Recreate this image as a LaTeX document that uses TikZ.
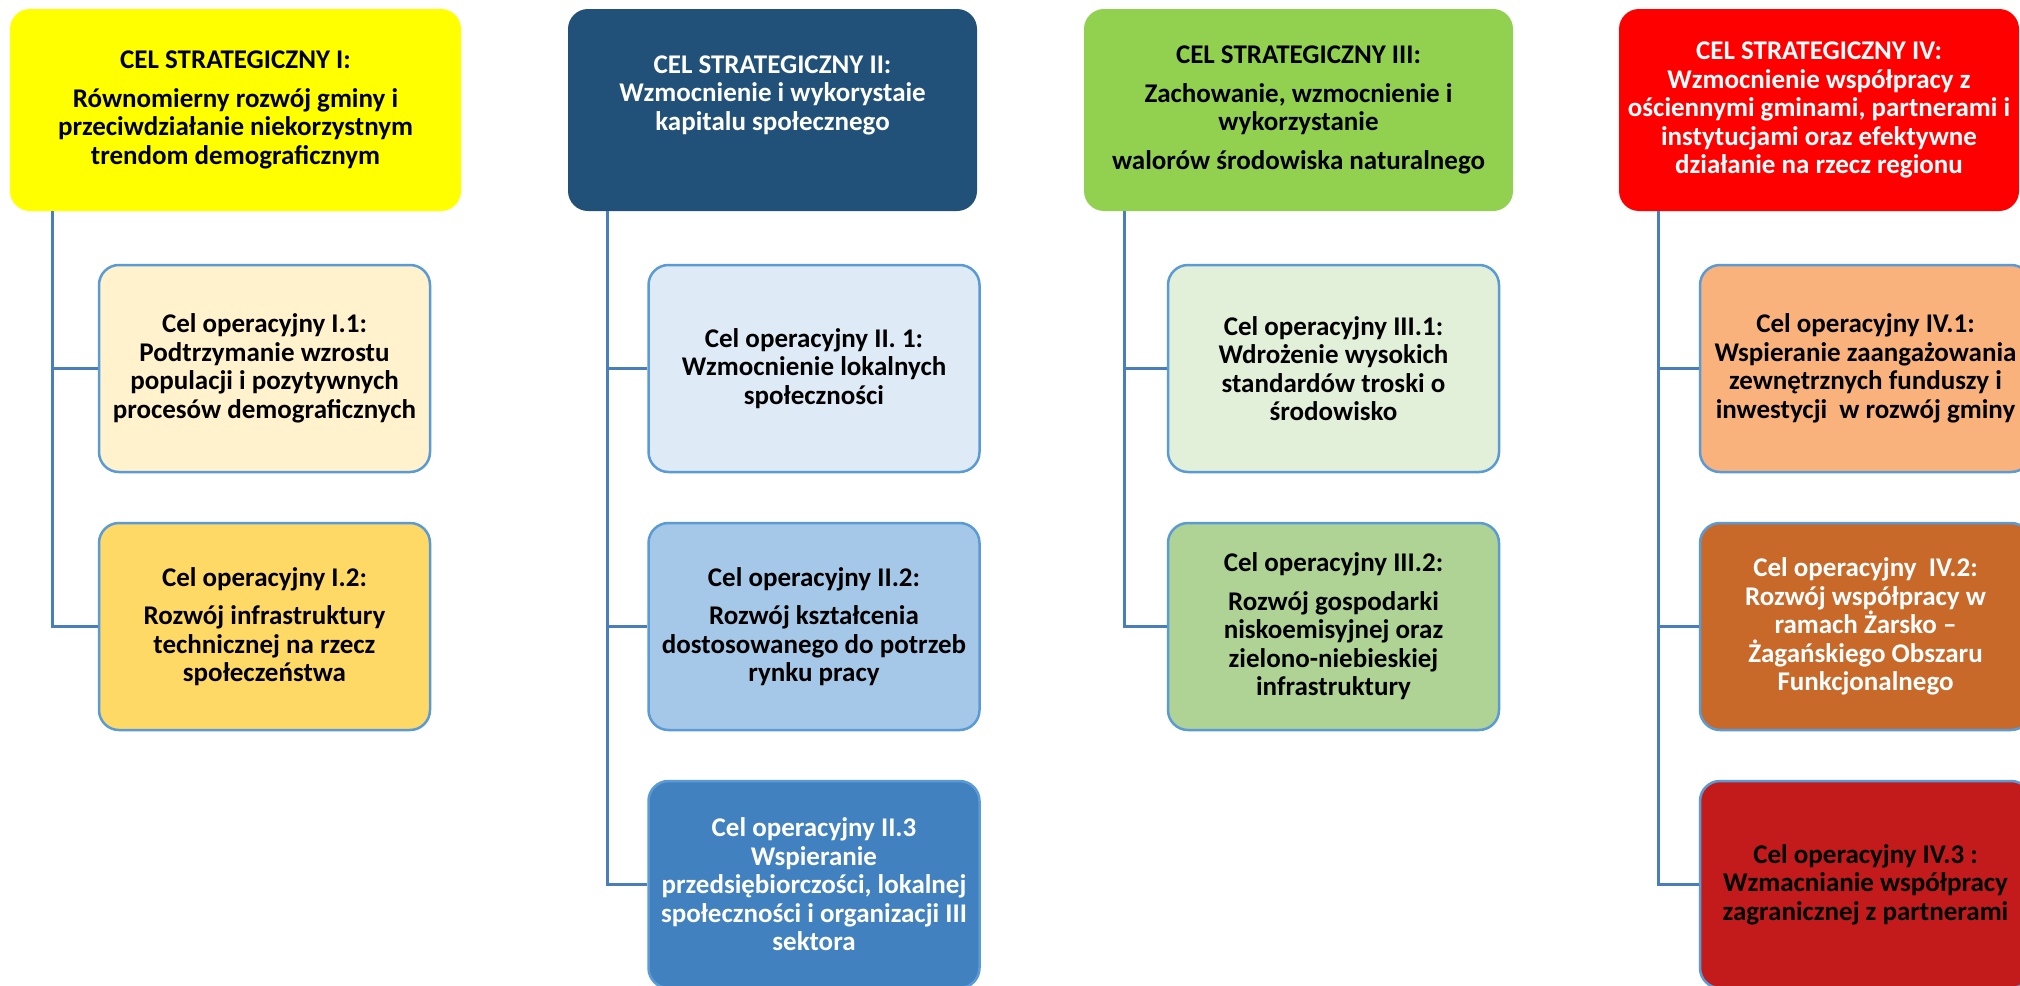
\documentclass[tikz,border=0pt]{standalone}
\usepackage{fontspec}
\setmainfont{Carlito}
\usetikzlibrary{positioning}

\definecolor{trunk}{HTML}{4A7EBB}
\definecolor{opline}{HTML}{5B9BD5}
\definecolor{stratI}{HTML}{FFFF00}
\definecolor{stratII}{HTML}{215078}
\definecolor{stratIII}{HTML}{92D050}
\definecolor{stratIV}{HTML}{FF0000}
\definecolor{opIa}{HTML}{FFF2CC}
\definecolor{opIb}{HTML}{FFD966}
\definecolor{opIIa}{HTML}{DEEBF7}
\definecolor{opIIb}{HTML}{A6C8E8}
\definecolor{opIIc}{HTML}{4181C0}
\definecolor{opIIIa}{HTML}{E2F0D9}
\definecolor{opIIIb}{HTML}{AFD394}
\definecolor{opIVa}{HTML}{F9B27C}
\definecolor{opIVb}{HTML}{C8692A}
\definecolor{opIVc}{HTML}{C31A1C}

\tikzset{
  box/.style={rounded corners=20pt, align=center, inner sep=0pt,
    font=\bfseries\fontsize{27}{28.5}\selectfont},
  strat/.style={box, minimum height=202pt},
  oper/.style={box, draw=opline, line width=2.5pt, minimum width=331pt, minimum height=207pt},
  link/.style={draw=trunk, line width=3pt},
}

\begin{document}
\begin{tikzpicture}[x=1pt,y=-1pt]
  \path[use as bounding box, fill=white] (0,0) rectangle (2020,985);

  % strategic goals
  \node[strat, fill=stratI, minimum width=451pt] (s1) at (235.5,110)
    {CEL STRATEGICZNY I:\\[10pt] Równomierny rozwój gminy i\\ przeciwdziałanie niekorzystnym\\ trendom demograficznym};
  \node[strat, fill=stratII, minimum width=409pt] (s2) at (772.5,110) {};
  \node[box, text=white] (s2t) at ([yshift=15pt]s2.center)
    {CEL STRATEGICZNY II:\\ Wzmocnienie i wykorystaie\\ kapitalu społecznego};
  \node[strat, fill=stratIII, minimum width=429pt] (s3) at (1298.5,110)
    {CEL STRATEGICZNY III:\\[10pt] Zachowanie, wzmocnienie i\\ wykorzystanie\\[10pt] walorów środowiska naturalnego};
  \node[strat, fill=stratIV, text=white, minimum width=400pt] (s4) at (1819,110)
    {CEL STRATEGICZNY IV:\\ Wzmocnienie współpracy z\\ ościennymi gminami, partnerami i\\ instytucjami oraz efektywne\\ działanie na rzecz regionu};

  % operational goals
  \node[oper, fill=opIa] (c11) at (264.5,368.5)
    {Cel operacyjny I.1:\\ Podtrzymanie wzrostu\\ populacji i pozytywnych\\ procesów demograficznych};
  \node[oper, fill=opIb] (c12) at (264.5,626.5)
    {Cel operacyjny I.2:\\[10pt] Rozwój infrastruktury\\ technicznej na rzecz\\ społeczeństwa};

  \node[oper, fill=opIIa] (c21) at (814,368.5)
    {Cel operacyjny II. 1:\\ Wzmocnienie lokalnych\\ społeczności};
  \node[oper, fill=opIIb] (c22) at (814,626.5)
    {Cel operacyjny II.2:\\[10pt] Rozwój kształcenia\\ dostosowanego do potrzeb\\ rynku pracy};
  \node[oper, fill=opIIc, text=white] (c23) at (814,884.5)
    {Cel operacyjny II.3\\ Wspieranie\\ przedsiębiorczości, lokalnej\\ społeczności i organizacji III\\ sektora};

  \node[oper, fill=opIIIa] (c31) at (1333.5,368.5)
    {Cel operacyjny III.1:\\ Wdrożenie wysokich\\ standardów troski o\\ środowisko};
  \node[oper, fill=opIIIb] (c32) at (1333.5,626.5)
    {Cel operacyjny III.2:\\[10pt] Rozwój gospodarki\\ niskoemisyjnej oraz\\ zielono-niebieskiej\\ infrastruktury};

  \node[oper, fill=opIVa] (c41) at (1865.5,368.5)
    {Cel operacyjny IV.1:\\ Wspieranie zaangażowania\\ zewnętrznych funduszy i\\ inwestycji\ \ w rozwój gminy};
  \node[oper, fill=opIVb, text=white] (c42) at (1865.5,626.5)
    {Cel operacyjny\ \ IV.2:\\ Rozwój współpracy w\\ ramach Żarsko --\\ Żagańskiego Obszaru\\ Funkcjonalnego};
  \node[oper, fill=opIVc] (c43) at (1865.5,884.5)
    {Cel operacyjny IV.3 :\\ Wzmacnianie współpracy\\ zagranicznej z partnerami};

  % trunks
  \coordinate (t1) at ([xshift=43pt]s1.south west);
  \coordinate (t2) at ([xshift=40pt]s2.south west);
  \coordinate (t3) at ([xshift=41pt]s3.south west);
  \coordinate (t4) at ([xshift=40pt]s4.south west);

  \draw[link] (t1) |- (c11.west);
  \draw[link] (t1) |- (c12.west);
  \draw[link] (t2) |- (c21.west);
  \draw[link] (t2) |- (c22.west);
  \draw[link] (t2) |- (c23.west);
  \draw[link] (t3) |- (c31.west);
  \draw[link] (t3) |- (c32.west);
  \draw[link] (t4) |- (c41.west);
  \draw[link] (t4) |- (c42.west);
  \draw[link] (t4) |- (c43.west);
\end{tikzpicture}
\end{document}
